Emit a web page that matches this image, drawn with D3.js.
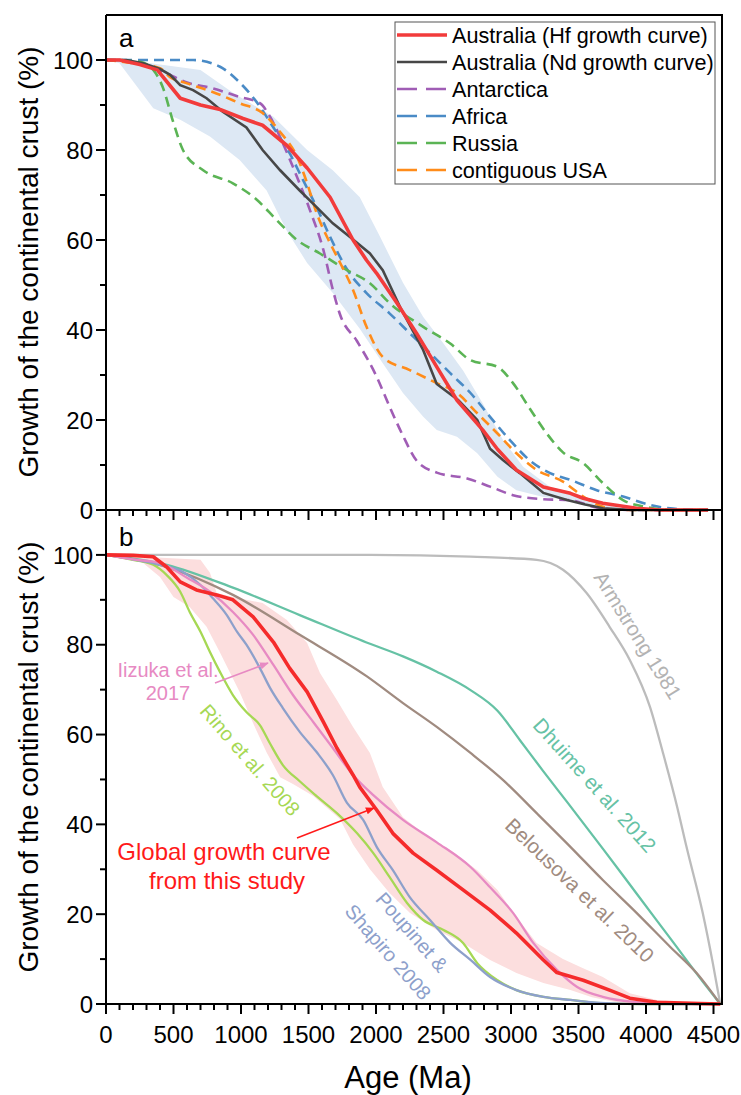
<!DOCTYPE html>
<html><head><meta charset="utf-8">
<script src="https://cdn.jsdelivr.net/npm/d3@7"></script>
<style>body{margin:0;background:#fff}svg{display:block}text{font-family:"Liberation Sans",Arial,sans-serif}</style>
</head><body>
<svg id="c" width="741" height="1095"></svg>
<script>
// ---------- data: panel a ----------
const hfAus = [[0,100],[100,100],[250,99],[380,97.8],[550,91.5],[700,90],[845,89],[1015,87],[1160,85.5],[1340,81],[1490,76],[1660,69.5],[1830,60],[1930,55.5],[2005,52.6],[2155,46],[2300,39.3],[2450,31.8],[2600,24.4],[2790,17.8],[2900,13.5],[3040,8.9],[3240,5.1],[3440,3.7],[3535,2.6],[3680,1.5],[3930,0.4],[4100,0],[4460,0]];
const ndAus = [[0,100],[150,100],[275,99.3],[400,98],[475,96.7],[550,94.4],[645,93.3],[745,91.5],[865,88.5],[1040,85],[1160,80],[1290,75.5],[1435,71],[1560,67.3],[1680,63.7],[1805,60.7],[1955,57],[2050,53.3],[2180,45],[2350,35.5],[2450,28],[2610,24.4],[2750,20],[2845,13.6],[2940,11.1],[3065,8.2],[3240,3.8],[3415,2.2],[3550,1.2],[3680,0.4],[3900,0],[4460,0]];
const antarctica = [[0,100],[200,99.6],[330,98.5],[450,97],[600,95],[790,93.7],[990,91.8],[1140,90.4],[1215,87.4],[1310,81.5],[1415,74],[1510,66.7],[1610,57.8],[1680,49],[1733,43.5],[1860,37.5],[2005,29.6],[2100,23],[2200,16.5],[2300,11],[2450,8.3],[2675,7],[2845,5.2],[3015,3.3],[3240,2.4],[3440,2.2],[3600,0.8],[3700,0.3],[3900,0],[4460,0]];
const africa = [[0,100],[645,100],[845,98.5],[990,95],[1115,90.7],[1240,85],[1360,79.3],[1460,73.3],[1560,67.3],[1660,60.7],[1785,53.5],[1930,48.2],[2100,43.7],[2250,39.3],[2400,34.9],[2550,30.4],[2700,26],[2845,20.7],[2990,15.6],[3140,11],[3290,8.2],[3440,6.7],[3635,4.4],[3830,3],[4030,1.1],[4200,0.3],[4460,0]];
const russia = [[0,100],[250,99.6],[350,97.8],[420,94],[500,86],[570,80],[720,75.5],[940,72.6],[1115,69],[1265,64.4],[1415,60],[1585,57],[1785,53.3],[1955,50.4],[2100,46],[2350,40.7],[2550,37],[2700,33.3],[2900,31.8],[3015,28.2],[3140,22.5],[3265,17],[3385,12.8],[3535,10.4],[3680,6],[3830,2.2],[4000,0.7],[4200,0],[4460,0]];
const usa = [[0,100],[200,99.3],[400,98.2],[475,96.2],[600,94.8],[790,92.9],[990,90.4],[1160,88.2],[1290,84],[1415,78.5],[1490,72.6],[1560,66],[1660,59.3],[1733,55],[1830,48.9],[1930,40.7],[2050,34],[2250,31.1],[2450,28.2],[2600,26],[2750,21.5],[2900,17],[3040,12.6],[3190,8.9],[3385,6.3],[3535,3],[3680,0.7],[3800,0],[4460,0]];
const bandAUpper = [[0,100],[250,99.6],[700,97.8],[940,92.7],[1240,87.4],[1490,80],[1680,75.5],[1880,69.5],[2030,60.7],[2200,50.5],[2350,42.9],[2500,37],[2645,31],[2790,23.7],[2940,15.6],[3090,9.6],[3290,5.1],[3440,4],[3600,2],[3800,0.5],[4000,0]];
const bandALower = [[0,100],[100,99.3],[350,89.3],[550,86.7],[770,83],[990,77.8],[1190,71],[1340,62],[1490,54.9],[1680,48.2],[1880,40.3],[2050,32.6],[2200,26],[2350,20.7],[2450,17.8],[2600,16.3],[2750,12.6],[2900,7.4],[3040,4.4],[3240,2.9],[3440,2.2],[3600,1],[3800,0.3],[4000,0]];
const legendLabels = ["Australia (Hf growth curve)","Australia (Nd growth curve)","Antarctica","Africa","Russia","contiguous USA"];

// ---------- data: panel b ----------
const globalCurve = [[0,100],[200,99.9],[350,99.6],[450,97.3],[550,94],[670,92.2],[820,91.1],[940,90],[1090,86.2],[1240,80.6],[1360,74.8],[1490,69.5],[1610,62.8],[1710,57],[1830,51],[1880,48.3],[2005,43.2],[2125,38],[2275,33.6],[2450,29.8],[2645,25.4],[2845,20.9],[3040,15.8],[3240,9.8],[3340,7],[3535,5.3],[3730,3.1],[3880,1.3],[4080,0.4],[4400,0.1],[4550,0]];
const bandBUpper = [[0,100],[450,99.3],[700,98.9],[770,96],[820,91.5],[940,90.6],[1160,89.3],[1340,85.5],[1490,80.4],[1585,73.7],[1710,67.7],[1830,61.7],[1955,55.9],[2050,48.3],[2200,41.6],[2350,38],[2550,34.3],[2750,29.8],[2900,25.4],[3040,19.4],[3190,13.6],[3385,10],[3530,8],[3680,6],[3880,2.4],[4080,0.9],[4300,0]];
const bandBLower = [[0,100],[150,99.5],[275,98.2],[400,95.1],[500,90.6],[620,88.4],[745,84],[845,78.2],[990,69.5],[1090,62.5],[1190,56],[1290,50.5],[1385,49],[1535,46.3],[1733,41.2],[1830,35.5],[1955,30],[2100,24.7],[2250,20.3],[2450,16.5],[2645,13.6],[2845,9.8],[3040,6.9],[3240,4.7],[3440,3.1],[3600,1.5],[3800,0.3],[4000,0]];
const rino = [[0,100],[200,98.9],[350,97.8],[450,95.5],[550,91.8],[620,87.3],[700,82.9],[770,78.4],[845,73.9],[940,68.8],[1040,65],[1140,62.1],[1215,58],[1310,53.2],[1435,49.6],[1560,46.3],[1710,42.5],[1860,38],[1980,33.6],[2100,28.3],[2230,22.5],[2350,18.7],[2500,16.5],[2645,13.6],[2750,9.1],[2900,5.3],[3040,3.1],[3240,1.6],[3440,0.9],[3700,0.1],[4000,0],[4550,0]];
const poupinet = [[0,100],[200,99],[400,97.8],[570,96.2],[700,93.3],[790,90.4],[895,86.6],[970,82.9],[1040,80],[1140,74.8],[1215,70.4],[1310,65.9],[1435,60.6],[1560,56.1],[1680,51],[1785,44.8],[1905,41],[2005,35],[2125,29.8],[2250,23.8],[2400,18.7],[2550,13.6],[2700,9.8],[2845,6],[3040,3.1],[3240,1.6],[3440,0.9],[3700,0.2],[4000,0],[4550,0]];
const iizuka = [[0,100],[200,99],[400,98.2],[600,94.9],[770,91.8],[940,87.3],[1090,82.2],[1240,75.5],[1385,68.8],[1535,62.8],[1680,57],[1830,51],[1980,46.5],[2200,41],[2450,36],[2700,30.5],[2845,26],[3015,20.3],[3165,13.6],[3340,7.6],[3490,3.8],[3680,1.6],[3930,0.4],[4200,0],[4550,0]];
const dhuime = [[0,100],[450,97.8],[940,92.7],[1435,86.6],[1930,80.5],[2200,77.4],[2450,74],[2700,69.9],[2900,65.3],[3065,58.8],[3240,51.8],[3415,45],[3680,34.6],[3930,24.6],[4180,14.6],[4420,5],[4550,0]];
const belousova = [[0,100],[450,97.3],[940,91.1],[1435,82.2],[1930,73],[2200,67],[2450,61.7],[2700,55.9],[2940,49.9],[3190,42.5],[3440,35],[3680,27.6],[3930,20.3],[4180,12.7],[4375,6.9],[4550,0]];
const armstrong = [[0,100],[1955,100],[2700,99.6],[3190,98.9],[3385,96.7],[3560,91.5],[3730,84],[3880,76.6],[4030,66.1],[4125,56],[4230,44],[4300,35],[4420,20.3],[4495,9.1],[4550,0]];

const xMajor = d3.range(0, 4501, 500);
const xMinor = d3.range(0, 4501, 100);
const yMajor = d3.range(0, 101, 20);
const yMinor = d3.range(0, 101, 10);

// ---------- layout ----------
const svg = d3.select("#c");
const L = 106, R = 722;
const x = d3.scaleLinear().domain([0, 4563]).range([L, R]);
const ya = d3.scaleLinear().domain([0, 110]).range([510, 15]);
const yb = d3.scaleLinear().domain([0, 110]).range([1004, 510]);

const defs = svg.append("defs");
function marker(id, color){
  defs.append("marker").attr("id", id).attr("viewBox","0 0 10 10").attr("refX",9).attr("refY",5)
    .attr("markerWidth",9).attr("markerHeight",9).attr("markerUnits","userSpaceOnUse").attr("orient","auto")
    .append("path").attr("d","M0,1 L10,5 L0,9 Z").attr("fill", color);
}
marker("arPink", "#e78ac3");
marker("arRed", "#ff1a1a");

function area(y){ return (up, lo) => {
  const pts = up.map(d => [x(d[0]), y(d[1])]).concat(lo.slice().reverse().map(d => [x(d[0]), y(d[1])]));
  return d3.line().curve(d3.curveLinear)(pts) + "Z";
};}
function line(y, curve){ return d3.line().x(d => x(d[0])).y(d => y(d[1])).curve(curve || d3.curveMonotoneX); }

// ---------- panel a ----------
const ga = svg.append("g");
ga.append("path").attr("d", area(ya)(bandAUpper, bandALower)).attr("fill", "#dde8f4");
const dashed = [[antarctica,"#a05db5"],[africa,"#4a8bc6"],[russia,"#5bb455"],[usa,"#ff8c1a"]];
dashed.forEach(([d,c]) => ga.append("path").attr("d", line(ya)(d)).attr("fill","none").attr("stroke",c)
  .attr("stroke-width",2.6).attr("stroke-dasharray","10,6"));
ga.append("path").attr("d", line(ya, d3.curveLinear)(ndAus)).attr("fill","none").attr("stroke","#474747").attr("stroke-width",2.6);
ga.append("path").attr("d", line(ya, d3.curveLinear)(hfAus)).attr("fill","none").attr("stroke","#f23b3b").attr("stroke-width",3.6).attr("stroke-linejoin","round");

// ---------- panel b ----------
const gb = svg.append("g");
gb.append("path").attr("d", area(yb)(bandBUpper, bandBLower)).attr("fill", "#fcdede");
const bl = [[armstrong,"#bcbcbc"],[dhuime,"#66c2a5"],[belousova,"#a08b80"],[rino,"#a6d854"],[poupinet,"#8da0cb"],[iizuka,"#e78ac3"]];
bl.forEach(([d,c]) => gb.append("path").attr("d", line(yb)(d)).attr("fill","none").attr("stroke",c).attr("stroke-width",2.3));
gb.append("path").attr("d", line(yb, d3.curveLinear)(globalCurve)).attr("fill","none").attr("stroke","#f52b2b").attr("stroke-width",3.6).attr("stroke-linejoin","round");

// ---------- axes ----------
function yAxis(y, g){
  g.append("line").attr("x1",L).attr("x2",L).attr("y1",y.range()[1]).attr("y2",y.range()[0]).attr("stroke","#000").attr("stroke-width",2);
  yMinor.forEach(v => g.append("line").attr("x1",L).attr("x2",L-(v%20===0?10:6)).attr("y1",y(v)).attr("y2",y(v)).attr("stroke","#000").attr("stroke-width",2));
  yMajor.forEach(v => g.append("text").attr("x",L-13).attr("y",y(v)).attr("dy","0.36em").attr("text-anchor","end").attr("font-size",24).text(v));
}
function xAxis(yPix, g, labels){
  g.append("line").attr("x1",L).attr("x2",R).attr("y1",yPix).attr("y2",yPix).attr("stroke","#000").attr("stroke-width",2);
  xMinor.forEach(v => g.append("line").attr("x1",x(v)).attr("x2",x(v)).attr("y1",yPix).attr("y2",yPix+(v%500===0?10:6)).attr("stroke","#000").attr("stroke-width",2));
  if(labels) xMajor.forEach(v => g.append("text").attr("x",x(v)).attr("y",yPix+39).attr("text-anchor","middle").attr("font-size",24).text(v));
}
const ax = svg.append("g");
ax.append("line").attr("x1",L).attr("x2",R).attr("y1",15).attr("y2",15).attr("stroke","#000").attr("stroke-width",2);
ax.append("line").attr("x1",R).attr("x2",R).attr("y1",14).attr("y2",1005).attr("stroke","#000").attr("stroke-width",2);
yAxis(ya, ax); yAxis(yb, ax);
xAxis(510, ax, false); xAxis(1004, ax, true);

ax.append("text").attr("transform","translate(28,262) rotate(-90)").attr("text-anchor","middle").attr("dominant-baseline","central").attr("font-size",28).text("Growth of the continental crust (%)");
ax.append("text").attr("transform","translate(28,757) rotate(-90)").attr("text-anchor","middle").attr("dominant-baseline","central").attr("font-size",28).text("Growth of the continental crust (%)");
ax.append("text").attr("x",408).attr("y",1088).attr("text-anchor","middle").attr("font-size",31).text("Age (Ma)");
ax.append("text").attr("x",119).attr("y",47).attr("font-size",26).text("a");
ax.append("text").attr("x",119).attr("y",546).attr("font-size",26).text("b");

// ---------- legend ----------
const lg = svg.append("g");
lg.append("rect").attr("x",395).attr("y",22).attr("width",320).attr("height",162).attr("fill","#fff").attr("stroke","#555").attr("stroke-width",1);
const legendStyles = [["#f23b3b",3.6,null],["#474747",2.6,null],["#a05db5",2.6,"20,9"],["#4a8bc6",2.6,"20,9"],["#5bb455",2.6,"20,9"],["#ff8c1a",2.6,"20,9"]];
legendLabels.forEach((t,i) => {
  const yy = 35 + i*27;
  const s = legendStyles[i];
  lg.append("line").attr("x1",397).attr("x2",447).attr("y1",yy).attr("y2",yy).attr("stroke",s[0]).attr("stroke-width",s[1]).attr("stroke-dasharray",s[2]);
  lg.append("text").attr("x",452).attr("y",yy).attr("dy","0.36em").attr("font-size",21.6).text(t);
});

// ---------- annotations panel b ----------
const an = svg.append("g");
function rot(txt, cx, cy, ang, color, size){
  an.append("text").attr("transform",`translate(${cx},${cy}) rotate(${ang})`).attr("text-anchor","middle")
    .attr("dominant-baseline","central").attr("font-size",size||20).attr("fill",color).text(txt);
}
rot("Armstrong 1981", 638, 635, 58, "#b3b3b3", 20.5);
rot("Dhuime et al. 2012", 595, 785, 48, "#66c2a5", 20.5);
rot("Belousova et al. 2010", 580, 890, 44, "#a08b80", 20.5);
rot("Rino et al. 2008", 250, 760, 49, "#a6d854", 20);
rot("Poupinet &", 412, 932, 49, "#8da0cb", 20);
rot("Shapiro 2008", 388, 952, 49, "#8da0cb", 20);

an.append("text").attr("x",168).attr("y",677).attr("text-anchor","middle").attr("font-size",20).attr("fill","#e78ac3").text("Iizuka et al.");
an.append("text").attr("x",168).attr("y",700).attr("text-anchor","middle").attr("font-size",20).attr("fill","#e78ac3").text("2017");
an.append("line").attr("x1",215).attr("y1",683).attr("x2",268).attr("y2",663).attr("stroke","#e78ac3").attr("stroke-width",1.6).attr("marker-end","url(#arPink)");

an.append("text").attr("x",224).attr("y",860).attr("text-anchor","middle").attr("font-size",24).attr("fill","#ff1a1a").text("Global growth curve");
an.append("text").attr("x",227).attr("y",889).attr("text-anchor","middle").attr("font-size",24).attr("fill","#ff1a1a").text("from this study");
an.append("line").attr("x1",297).attr("y1",838).attr("x2",374).attr("y2",808).attr("stroke","#ff1a1a").attr("stroke-width",1.4).attr("marker-end","url(#arRed)");
</script>
</body></html>
